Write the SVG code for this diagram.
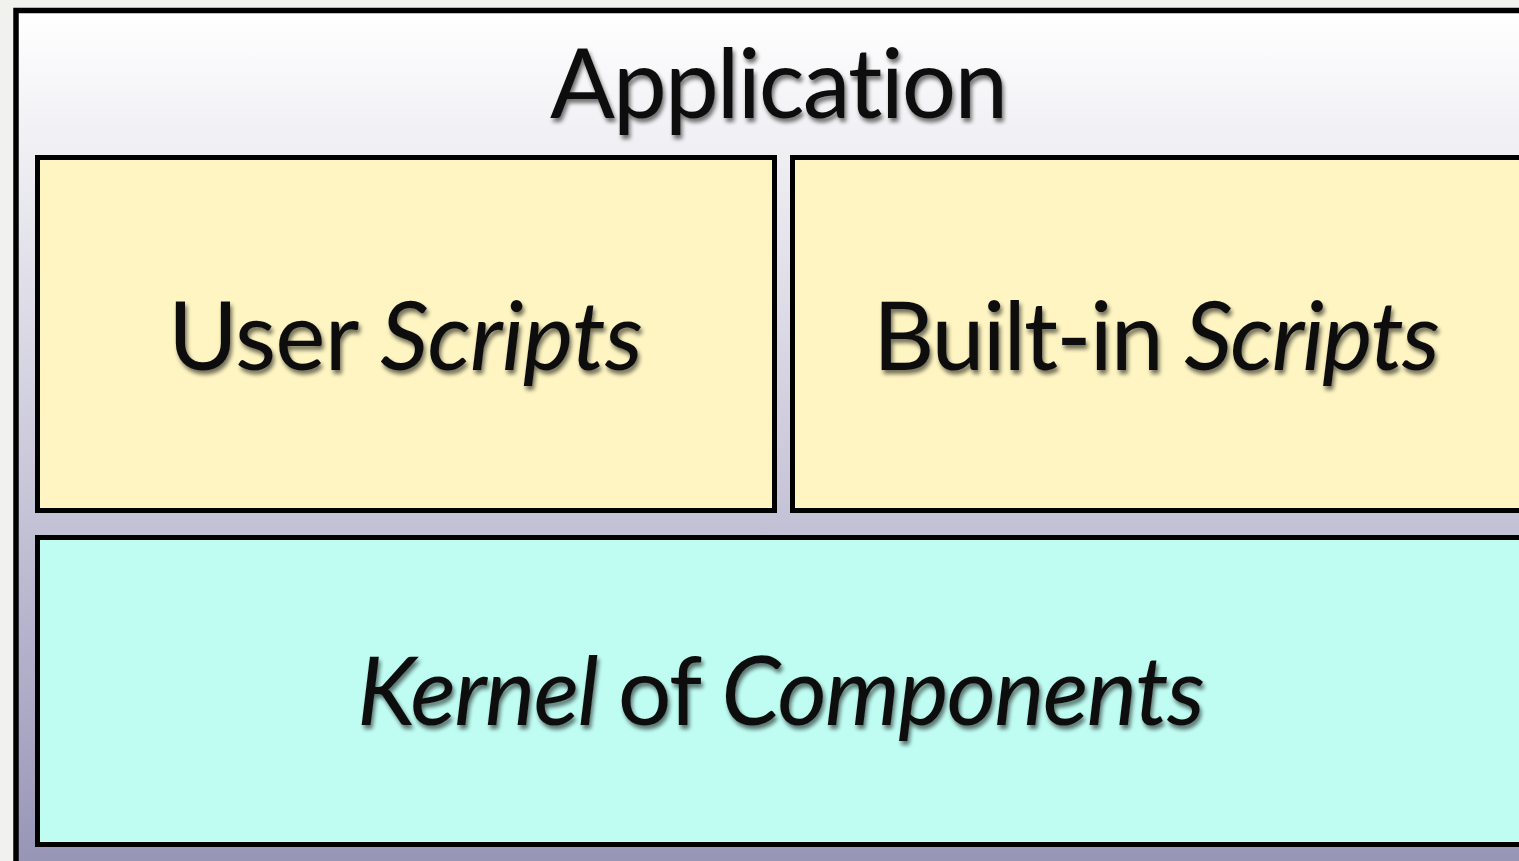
<svg xmlns="http://www.w3.org/2000/svg" width="1519" height="861" viewBox="0 0 1519 861">
  <defs>
    <linearGradient id="frameFill" gradientUnits="userSpaceOnUse" x1="0" y1="13" x2="0" y2="861">
      <stop offset="0" stop-color="#ffffff"/>
      <stop offset="0.17" stop-color="#eeeef3"/>
      <stop offset="0.57" stop-color="#c7c5d8"/>
      <stop offset="1" stop-color="#9896b7"/>
    </linearGradient>
    <filter id="textShadow" x="-10%" y="-30%" width="120%" height="160%">
      <feGaussianBlur in="SourceAlpha" stdDeviation="2.2"/>
      <feOffset dx="2" dy="4" result="b"/>
      <feComponentTransfer><feFuncA type="linear" slope="0.55"/></feComponentTransfer>
      <feMerge><feMergeNode/><feMergeNode in="SourceGraphic"/></feMerge>
    </filter>
  </defs>
  <style>
    .box { stroke: #000; stroke-width: 5; }
    .label { font-family: Lato, "Open Sans", sans-serif; fill: #111; text-anchor: middle; filter: url(#textShadow); font-variant-ligatures: none; }
    .it { font-style: italic; }
  </style>

  <rect x="0" y="0" width="1519" height="861" fill="#f1f1ee"/>

  <g id="application">
    <rect x="16" y="10.5" width="1540" height="900" fill="url(#frameFill)" stroke="#000" stroke-width="5.5"/>
    <text class="label" x="779" y="118" font-size="96" textLength="458">Application</text>
  </g>

  <g id="user-scripts">
    <rect class="box" x="37.5" y="157.5" width="737" height="353" fill="#fef5c2"/>
    <text class="label" x="405.5" y="370" font-size="95" textLength="475">User <tspan class="it">Scripts</tspan></text>
  </g>

  <g id="builtin-scripts">
    <rect class="box" x="792.5" y="157.5" width="760" height="353" fill="#fef5c2"/>
    <text class="label" x="1156.5" y="370" font-size="95" textLength="567">Built-in <tspan class="it">Scripts</tspan></text>
  </g>

  <g id="kernel">
    <rect class="box" x="37.5" y="537.5" width="1520" height="307" fill="#bffdf3"/>
    <text class="label it" x="781" y="725" font-size="95" textLength="848">Kernel <tspan font-style="normal">of</tspan> Components</text>
  </g>

  <g id="connectors"/>
</svg>
